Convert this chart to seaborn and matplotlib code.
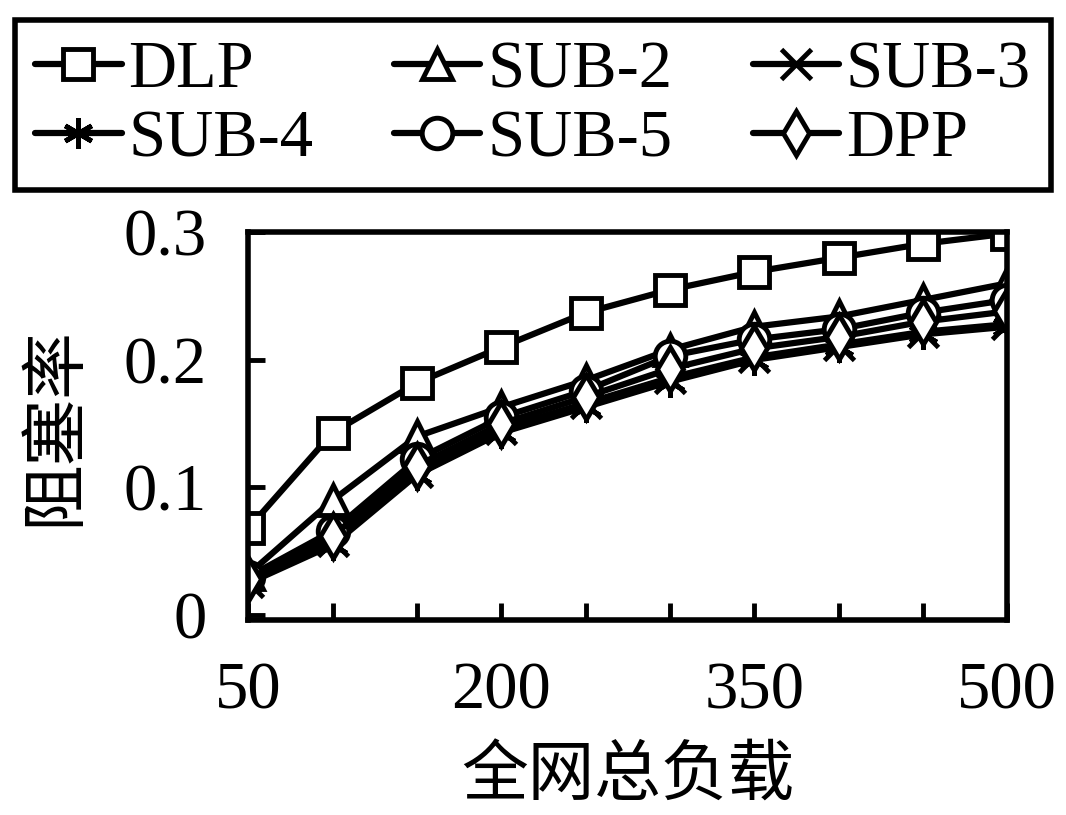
import numpy as np
import pandas as pd
import matplotlib
matplotlib.use("Agg")
import matplotlib.pyplot as plt
import seaborn as sns

# ── data ─────────────────────────────────────────────────────────────────────
load = [50, 100, 150, 200, 250, 300, 350, 400, 450, 500]
dlp   = [0.068, 0.143, 0.182, 0.210, 0.237, 0.255, 0.269, 0.280, 0.291, 0.299]
sub2  = [0.032, 0.090, 0.140, 0.163, 0.184, 0.208, 0.226, 0.234, 0.247, 0.260]
sub3  = [0.026, 0.058, 0.112, 0.146, 0.166, 0.186, 0.202, 0.212, 0.222, 0.228]
sub4  = [0.025, 0.055, 0.110, 0.143, 0.163, 0.183, 0.200, 0.210, 0.220, 0.226]
sub5  = [0.030, 0.066, 0.122, 0.155, 0.176, 0.203, 0.216, 0.224, 0.237, 0.247]
dpp   = [0.028, 0.062, 0.117, 0.150, 0.171, 0.193, 0.209, 0.218, 0.230, 0.238]

names = ["DLP", "SUB-2", "SUB-3", "SUB-4", "SUB-5", "DPP"]
series = [dlp, sub2, sub3, sub4, sub5, dpp]
markers = ["s", "^", "x", (6, 2, 0), "o", "d"]

df = pd.DataFrame({
    "load": np.tile(load, len(names)),
    "rate": np.concatenate(series),
    "scheme": np.repeat(names, len(load)),
})

sns.set_theme(style="white")
plt.rcParams["font.family"] = ["Liberation Serif", "Noto Sans CJK SC"]
plt.rcParams["text.color"] = "black"
plt.rcParams["axes.labelcolor"] = "black"

fig = plt.figure(figsize=(10.66, 8.15), dpi=100)
ax = fig.add_axes([0.233, 0.239, 0.712, 0.476])

for name, mk in zip(names, markers):
    sub = df[df["scheme"] == name]
    sns.lineplot(data=sub, x="load", y="rate", ax=ax, color="black",
                 marker=mk, markersize=22, markerfacecolor="white",
                 markeredgecolor="black", markeredgewidth=3.5,
                 linewidth=4.5, label=name, legend=False)

ax.set_xlim(50, 500)
ax.set_ylim(-0.004, 0.3)
ax.set_xticks([50, 200, 350, 500])
ax.set_xticks([100, 150, 250, 300, 400, 450], minor=True)
ax.set_yticks([0, 0.1, 0.2, 0.3])
ax.set_yticklabels(["0", "0.1", "0.2", "0.3"])
ax.tick_params(axis="both", which="both", direction="in", length=12,
               width=3.5, labelsize=48, colors="black",
               bottom=True, left=True)
ax.tick_params(axis="y", pad=30)
ax.tick_params(axis="x", pad=30)
for s in ax.spines.values():
    s.set_color("black")
    s.set_linewidth(4)

ax.set_xlabel("全网总负载", fontsize=48, labelpad=18)
ax.set_ylabel("阻塞率", fontsize=48, labelpad=26)

# legend filled row by row: DLP SUB-2 SUB-3 / SUB-4 SUB-5 DPP
handles, labels = ax.get_legend_handles_labels()
order = [0, 3, 1, 4, 2, 5]
leg = fig.legend([handles[i] for i in order], [labels[i] for i in order],
                 loc="upper left", ncol=3,
                 bbox_to_anchor=(0.014, 0.775, 0.972, 0.2), mode="expand",
                 fontsize=48, frameon=True, fancybox=False, framealpha=1,
                 handlelength=1.3, handletextpad=0.1, columnspacing=0.1,
                 labelspacing=0.12, borderpad=0.3, borderaxespad=0)
leg.get_frame().set_edgecolor("black")
leg.get_frame().set_linewidth(4)

fig.savefig("out.png", dpi=100)
